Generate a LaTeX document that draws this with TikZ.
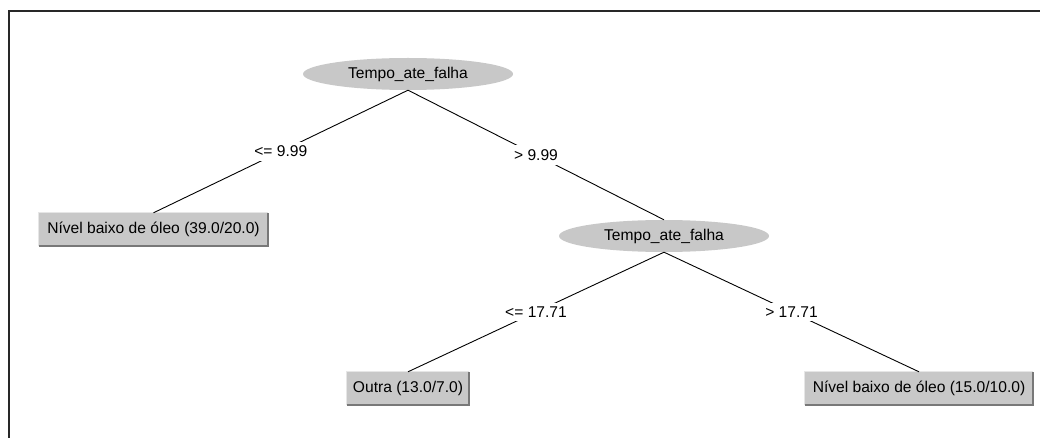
\documentclass[tikz,border=0pt]{standalone}
\usepackage{fontspec}
\setmainfont{Liberation Sans}
\usetikzlibrary{shapes.geometric}
\definecolor{nodegray}{RGB}{200,200,200}
\definecolor{boxdark}{RGB}{120,120,120}
\definecolor{boxlight}{RGB}{230,230,230}
\definecolor{framecol}{RGB}{40,40,40}
\tikzset{
  txt/.style={font=\fontsize{15.6}{18}\selectfont},
  split/.style={ellipse, fill=nodegray, draw=none, minimum width=210pt, minimum height=32pt, inner sep=0pt, txt},
  leaf/.style={rectangle, fill=nodegray, draw=none, minimum height=33pt, inner sep=0pt, txt},
  elabel/.style={fill=white, inner sep=4pt, txt},
  edge/.style={draw=black, line width=0.9pt},
}
\newcommand{\leafrim}[1]{%
  \draw[boxlight, line width=1pt] (#1.south west) -- (#1.north west) -- (#1.north east);
  \draw[boxdark, line width=1.5pt] (#1.south west) -- (#1.south east) -- (#1.north east);
}
\begin{document}
\begin{tikzpicture}[x=1pt,y=-1pt]
\useasboundingbox (0,0) rectangle (1040,438);
\fill[white] (0,0) rectangle (1040,438);
\draw[framecol, line width=2pt] (9,438) -- (9,11) -- (1040,11);

\node[split] (r) at (408,74) {Tempo\_ate\_falha};
\node[split] (s) at (664,236) {Tempo\_ate\_falha};
\node[leaf, minimum width=229pt] (l1) at (153.5,229.5) {Nível baixo de óleo (39.0/20.0)};
\node[leaf, minimum width=122pt] (l2) at (408,388.5) {Outra (13.0/7.0)};
\node[leaf, minimum width=228pt] (l3) at (919,388.5) {Nível baixo de óleo (15.0/10.0)};
\leafrim{l1}
\leafrim{l2}
\leafrim{l3}

\draw[edge] (r.south) -- (l1.north) node[elabel, pos=0.5] (e1) {<= 9.99};
\draw[edge] (r.south) -- (s.north) node[elabel, pos=0.5] (e2) {> 9.99};
\draw[edge] (s.south) -- (l2.north) node[elabel, pos=0.5] (e3) {<= 17.71};
\draw[edge] (s.south) -- (l3.north) node[elabel, pos=0.5] (e4) {> 17.71};
\end{tikzpicture}
\end{document}
